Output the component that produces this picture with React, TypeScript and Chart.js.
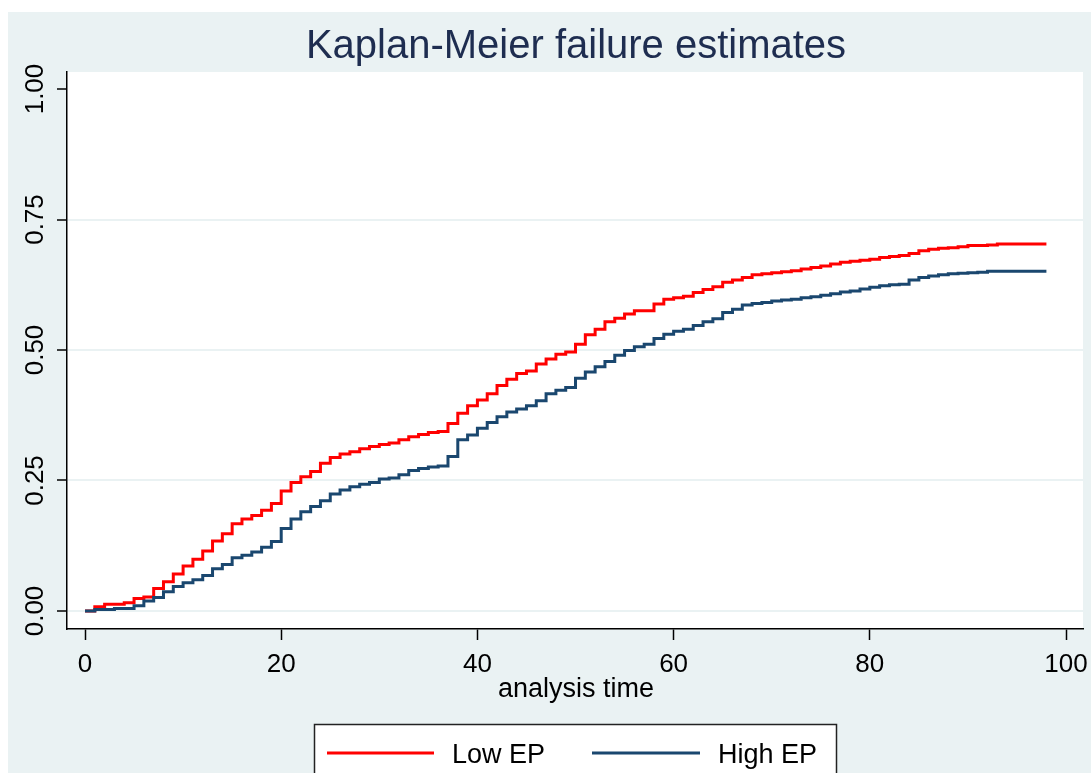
import React, { useEffect, useRef } from "react";
import { Chart, registerables } from "chart.js";

Chart.register(...registerables);

const chartTitle = "Kaplan-Meier failure estimates";
const xAxisTitle = "analysis time";
const seriesLabels = ["Low EP", "High EP"];
const seriesColors = ["#FF0000", "#1A476F"];
const xTickValues = [0, 20, 40, 60, 80, 100];
const xTickLabels = ["0", "20", "40", "60", "80", "100"];
const yTickValues = [0, 0.25, 0.5, 0.75, 1];
const yTickLabels = ["0.00", "0.25", "0.50", "0.75", "1.00"];

const lowTimes = [
  0, 1, 2, 4, 5, 6, 7, 8, 9, 10, 11, 12, 13, 14, 15, 16, 17, 18, 19, 20,
  21, 22, 23, 24, 25, 26, 27, 28, 29, 30, 31, 32, 33, 34, 35, 36, 37, 38, 39, 40,
  41, 42, 43, 44, 45, 46, 47, 48, 49, 50, 51, 52, 53, 54, 55, 56, 58, 59, 60,
  61, 62, 63, 64, 65, 66, 67, 68, 69, 70, 71, 72, 73, 74, 75, 76, 77, 78, 79, 80,
  81, 82, 83, 84, 85, 86, 87, 88, 89, 90, 92, 93, 98,
];
const lowValues = [
  0, 0.008, 0.013, 0.016, 0.024, 0.027, 0.043, 0.056, 0.071, 0.086, 0.099, 0.115, 0.134, 0.148, 0.167, 0.176, 0.183, 0.193, 0.206, 0.23,
  0.246, 0.257, 0.267, 0.283, 0.294, 0.301, 0.305, 0.311, 0.315, 0.319, 0.322, 0.328, 0.334, 0.338, 0.342, 0.344, 0.359, 0.379, 0.393, 0.404,
  0.416, 0.432, 0.444, 0.455, 0.46, 0.473, 0.483, 0.492, 0.496, 0.511, 0.529, 0.54, 0.554, 0.561, 0.569, 0.575, 0.588, 0.597, 0.6,
  0.603, 0.61, 0.616, 0.621, 0.63, 0.634, 0.639, 0.644, 0.646, 0.648, 0.65, 0.652, 0.655, 0.658, 0.661, 0.665, 0.668, 0.67, 0.672, 0.674,
  0.677, 0.679, 0.681, 0.685, 0.69, 0.693, 0.695, 0.696, 0.698, 0.7, 0.701, 0.703, 0.703,
];

const highTimes = [
  0, 1, 3, 5, 6, 7, 8, 9, 10, 11, 12, 13, 14, 15, 16, 17, 18, 19, 20,
  21, 22, 23, 24, 25, 26, 27, 28, 29, 30, 31, 32, 33, 34, 35, 36, 37, 38, 39, 40,
  41, 42, 43, 44, 45, 46, 47, 48, 49, 50, 51, 52, 53, 54, 55, 56, 57, 58, 59, 60,
  61, 62, 63, 64, 65, 66, 67, 68, 69, 70, 71, 72, 73, 74, 75, 76, 77, 78, 79, 80,
  81, 82, 83, 84, 85, 86, 87, 88, 89, 90, 91, 92, 98,
];
const highValues = [
  0, 0.003, 0.005, 0.01, 0.019, 0.026, 0.037, 0.047, 0.054, 0.06, 0.068, 0.081, 0.089, 0.102, 0.107, 0.113, 0.122, 0.133, 0.158,
  0.176, 0.19, 0.2, 0.211, 0.224, 0.232, 0.238, 0.243, 0.246, 0.253, 0.255, 0.261, 0.269, 0.273, 0.276, 0.278, 0.296, 0.328, 0.337, 0.35,
  0.361, 0.372, 0.381, 0.387, 0.393, 0.403, 0.416, 0.423, 0.428, 0.446, 0.458, 0.468, 0.478, 0.49, 0.499, 0.506, 0.511, 0.522, 0.53, 0.536,
  0.54, 0.547, 0.554, 0.56, 0.572, 0.578, 0.586, 0.589, 0.591, 0.594, 0.596, 0.597, 0.6, 0.602, 0.605, 0.608, 0.611, 0.613, 0.617, 0.62,
  0.623, 0.625, 0.626, 0.634, 0.639, 0.642, 0.644, 0.646, 0.647, 0.648, 0.649, 0.651, 0.651,
];

const FONT = '"Liberation Sans", Arial, sans-serif';
const BG = "#EAF2F3";

const toPoints = (ts: number[], vs: number[]) => ts.map((t, i) => ({ x: t, y: vs[i] }));

const decorPlugin = {
  id: "stataDecor",
  beforeDraw(chart: any) {
    const { ctx, chartArea: a, width, height } = chart;
    ctx.save();
    ctx.fillStyle = BG;
    ctx.fillRect(0, 0, width, height);
    ctx.fillStyle = "#FFFFFF";
    ctx.fillRect(a.left, a.top, a.right - a.left, a.bottom - a.top);
    ctx.restore();
  },
  afterDraw(chart: any) {
    const { ctx, scales } = chart;
    const xs = scales.x;
    const ys = scales.y;
    ctx.save();
    // title
    ctx.fillStyle = "#1E2D50";
    ctx.font = `40px ${FONT}`;
    ctx.textAlign = "center";
    ctx.textBaseline = "alphabetic";
    ctx.fillText(chartTitle, 568, 46);

    // x tick labels
    ctx.fillStyle = "#000000";
    ctx.font = `26px ${FONT}`;
    xTickValues.forEach((v, i) => {
      ctx.fillText(xTickLabels[i], xs.getPixelForValue(v), 660);
    });

    // y tick labels (rotated)
    yTickValues.forEach((v, i) => {
      ctx.save();
      ctx.translate(35, ys.getPixelForValue(v));
      ctx.rotate(-Math.PI / 2);
      ctx.textAlign = "center";
      ctx.fillText(yTickLabels[i], 0, 0);
      ctx.restore();
    });

    // x axis title
    ctx.font = `27px ${FONT}`;
    ctx.fillText(xAxisTitle, 568, 685);

    // legend
    const bx = 306.5, by = 712.5, bw = 522, bh = 60;
    ctx.fillStyle = "#FFFFFF";
    ctx.fillRect(bx, by, bw, bh);
    ctx.strokeStyle = "#222222";
    ctx.lineWidth = 1.5;
    ctx.strokeRect(bx, by, bw, bh);
    const items = [
      { x0: 319, x1: 426, tx: 444 },
      { x0: 584, x1: 692, tx: 710 },
    ];
    chart.data.datasets.forEach((ds: any, i: number) => {
      const it = items[i];
      ctx.strokeStyle = ds.borderColor;
      ctx.lineWidth = 3;
      ctx.beginPath();
      ctx.moveTo(it.x0, 741);
      ctx.lineTo(it.x1, 741);
      ctx.stroke();
      ctx.fillStyle = "#000000";
      ctx.font = `27px ${FONT}`;
      ctx.textAlign = "left";
      ctx.fillText(ds.label, it.tx, 751);
    });
    ctx.restore();
  },
};

export default function App() {
  const ref = useRef<HTMLCanvasElement | null>(null);

  useEffect(() => {
    if (!ref.current) return;
    const chart = new Chart(ref.current, {
      type: "line",
      data: {
        datasets: [
          {
            label: seriesLabels[0],
            data: toPoints(lowTimes, lowValues),
            borderColor: seriesColors[0],
            backgroundColor: seriesColors[0],
            borderWidth: 3,
            stepped: true,
            pointRadius: 0,
            fill: false,
            borderJoinStyle: "miter",
            borderCapStyle: "butt",
            order: 1,
          },
          {
            label: seriesLabels[1],
            data: toPoints(highTimes, highValues),
            borderColor: seriesColors[1],
            backgroundColor: seriesColors[1],
            borderWidth: 3,
            stepped: true,
            pointRadius: 0,
            fill: false,
            borderJoinStyle: "miter",
            borderCapStyle: "butt",
            order: 0,
          },
        ],
      },
      options: {
        animation: false,
        responsive: false,
        devicePixelRatio: 1,
        events: [],
        layout: { padding: { top: 60, right: 8, left: 0, bottom: 0 } },
        plugins: {
          legend: { display: false },
          title: { display: false },
          tooltip: { enabled: false },
        },
        scales: {
          x: {
            type: "linear",
            min: -1.835,
            max: 101.73,
            afterBuildTicks: (s: any) => {
              s.ticks = xTickValues.map((v) => ({ value: v }));
            },
            afterFit: (s: any) => {
              s.height = 144;
            },
            ticks: { display: false },
            grid: {
              drawOnChartArea: false,
              drawTicks: true,
              tickLength: 11,
              tickColor: "#000000",
              tickWidth: 1.5,
            },
            border: { display: true, color: "#000000", width: 1.5 },
          },
          y: {
            type: "linear",
            min: -0.0345,
            max: 1.0326,
            afterBuildTicks: (s: any) => {
              s.ticks = yTickValues.map((v) => ({ value: v }));
            },
            afterFit: (s: any) => {
              s.width = 59;
            },
            ticks: { display: false },
            grid: {
              color: (c: any) => (c.tick && c.tick.value === 1 ? "rgba(0,0,0,0)" : BG),
              lineWidth: 2,
              drawTicks: true,
              tickLength: 10,
              tickColor: "#000000",
              tickWidth: 1.5,
            },
            border: { display: true, color: "#000000", width: 1.5 },
          },
        },
      },
      plugins: [decorPlugin],
    } as any);
    return () => chart.destroy();
  }, []);

  return (
    <div style={{ position: "fixed", left: 8, top: 12, width: 1083, height: 761 }}>
      <canvas ref={ref} width={1083} height={761} style={{ display: "block" }} />
    </div>
  );
}
